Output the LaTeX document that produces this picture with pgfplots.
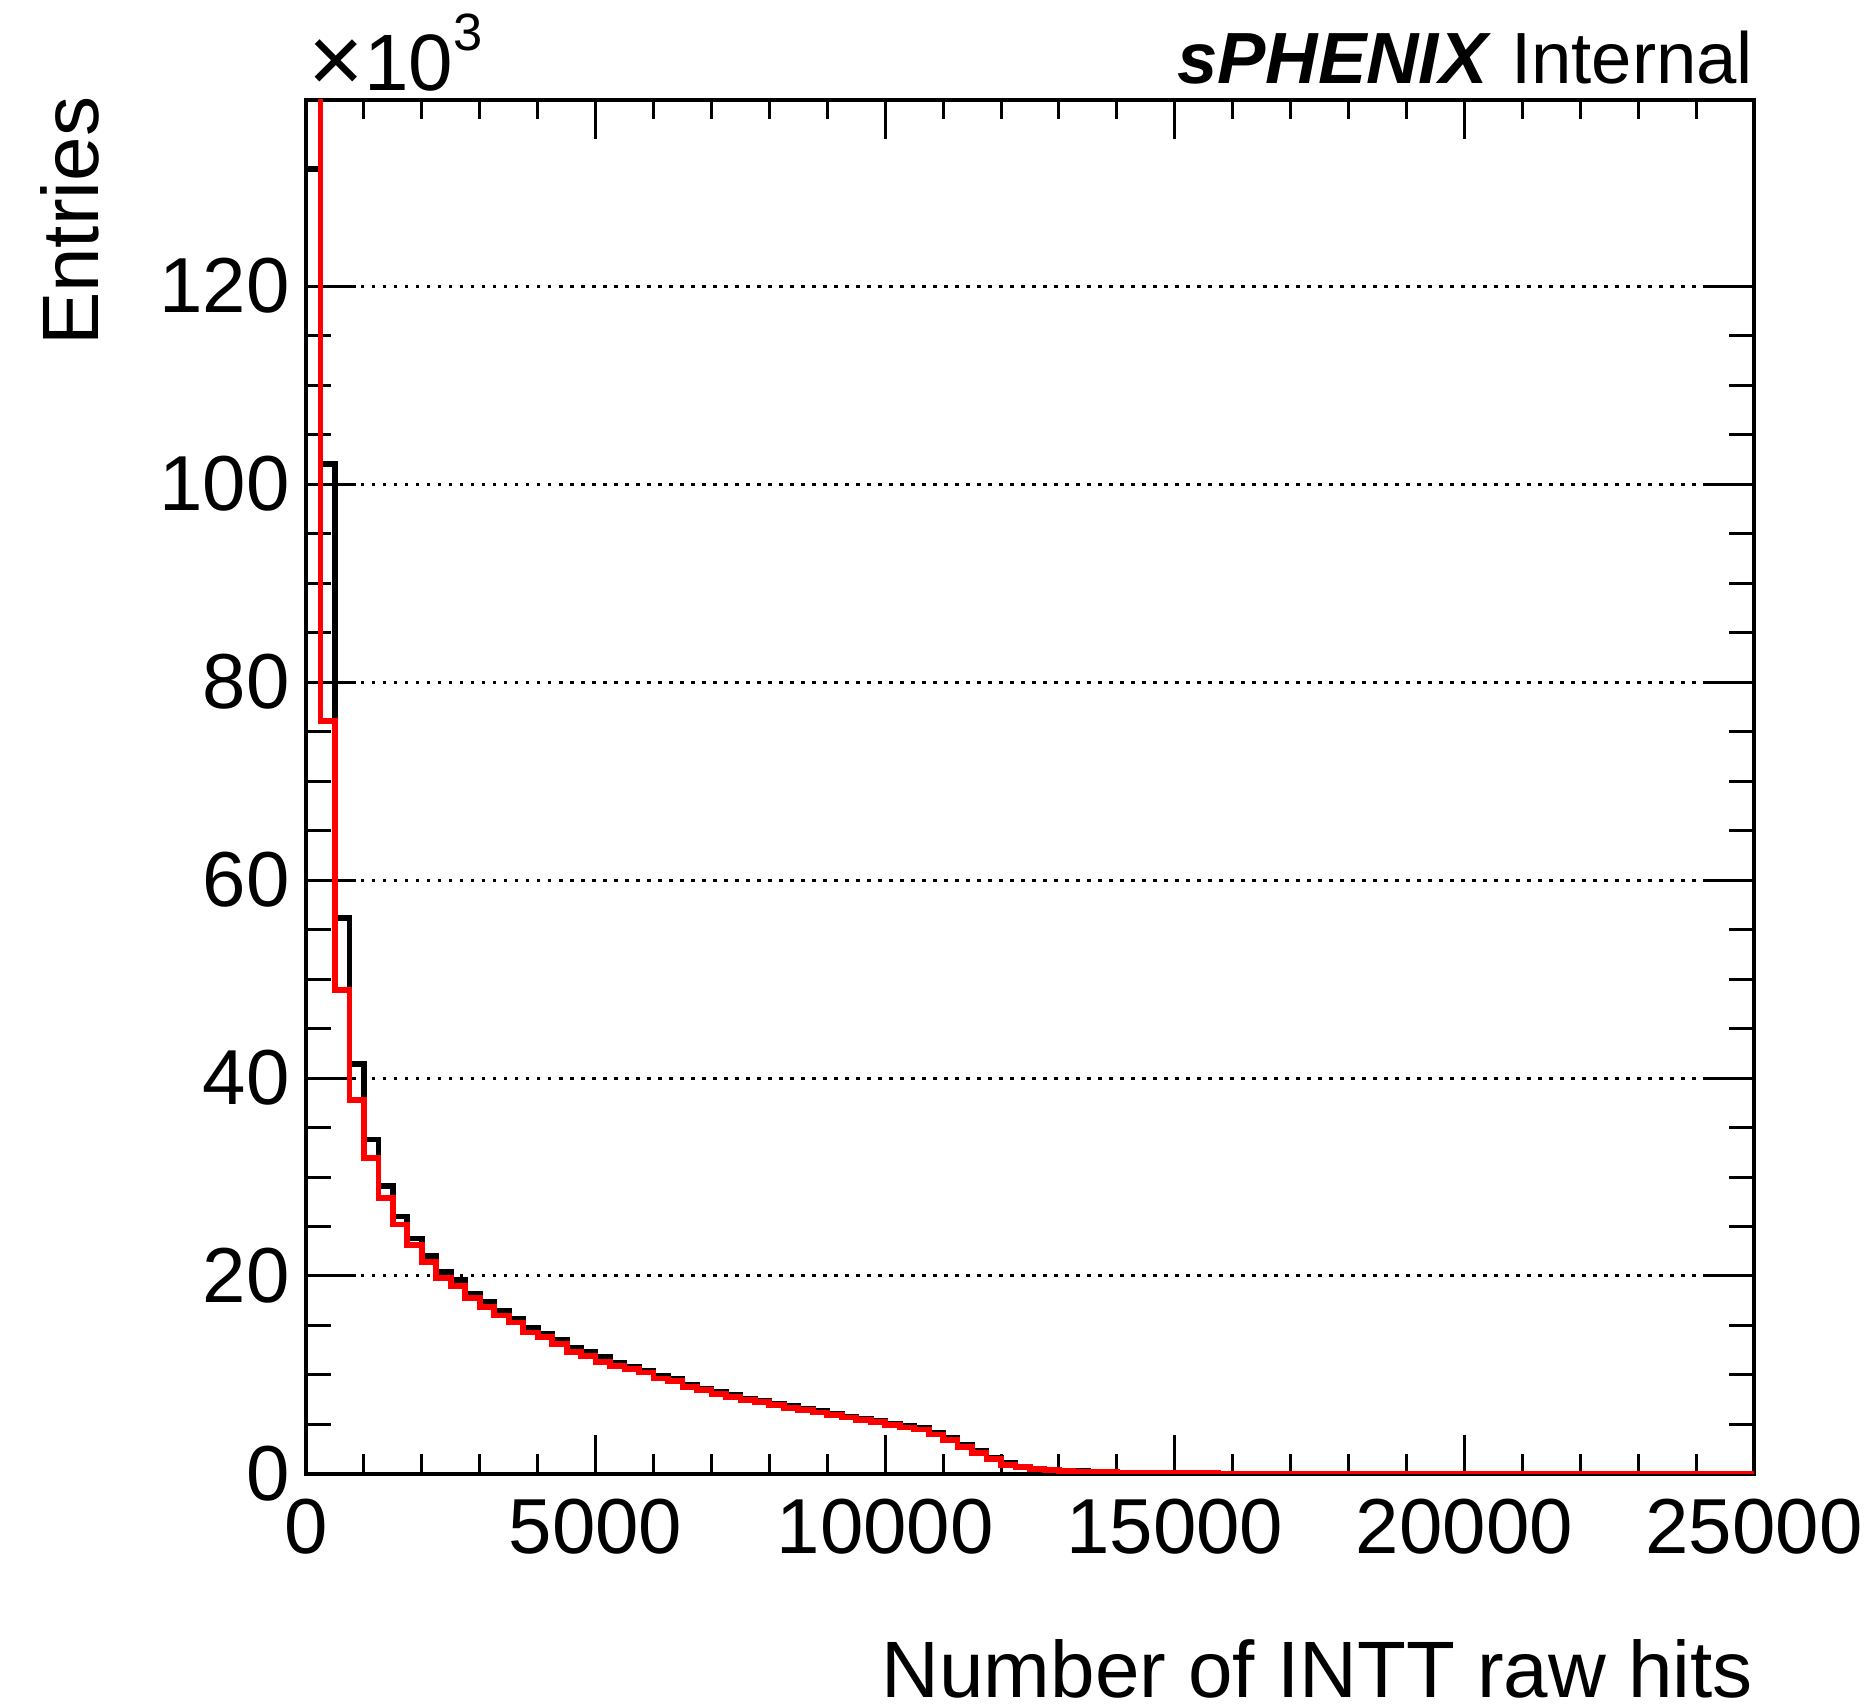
\documentclass[border=0pt]{standalone}
\usepackage{fontspec}
\setmainfont{Liberation Sans}
\usepackage{pgfplots}
\pgfplotsset{compat=1.18}
\begin{document}
\begin{tikzpicture}
\useasboundingbox (-61.2pt,-46.8pt) rectangle (313.8pt,294.8pt);
\begin{axis}[
  at={(0pt,0pt)}, anchor=south west,
  scale only axis, width=289.6pt, height=274.8pt,
  xmin=0, xmax=25000, ymin=0, ymax=138.8,
  axis line style={line width=0.9pt},
  xtick={0,5000,...,25000}, minor x tick num=4,
  ytick={0,20,...,120}, minor y tick num=3,
  tick align=inside,
  tick style={line width=0.6pt, black},
  major tick length=10pt, minor tick length=5pt,
  xtick style={/pgfplots/major tick length=7.8pt, /pgfplots/minor tick length=3.9pt},
  ymajorgrids,
  major grid style={line width=0.6pt, dash pattern=on 0.7pt off 1.5pt, black},
  scaled ticks=false,
  /pgf/number format/set thousands separator={},
  /pgf/number format/assume math mode=true,
  tick label style={font=\fontsize{15.6}{15.6}\selectfont, inner sep=0pt},
  xticklabel style={yshift=-4.8pt},
  yticklabel style={xshift=-3.1pt},
]
\addplot[const plot mark left, black, line width=1.15pt, line join=miter] coordinates {
(0,131.8) (250,102.0) (500,56.2) (750,41.4) (1000,33.8) (1250,29.1) (1500,26.0) (1750,23.8) (2000,22.0) (2250,20.4)
(2500,19.6) (2750,18.2) (3000,17.4) (3250,16.5) (3500,15.7) (3750,14.8) (4000,14.2) (4250,13.5) (4500,12.7) (4750,12.3)
(5000,11.8) (5250,11.2) (5500,10.8) (5750,10.4) (6000,9.9) (6250,9.6) (6500,9.0) (6750,8.6) (7000,8.3) (7250,7.95)
(7500,7.6) (7750,7.4) (8000,7.1) (8250,6.85) (8500,6.6) (8750,6.35) (9000,6.1) (9250,5.8) (9500,5.55) (9750,5.4)
(10000,5.1) (10250,4.85) (10500,4.65) (10750,4.2) (11000,3.6) (11250,2.95) (11500,2.35) (11750,1.65) (12000,1.1) (12250,0.75)
(12500,0.55) (12750,0.45) (13000,0.35) (13250,0.28) (13500,0.22) (13750,0.19) (14000,0.16) (14250,0.14) (14500,0.12) (14750,0.10)
(15000,0.09) (15250,0.08) (15500,0.07) (15750,0.06) (16000,0.05) (16250,0.05) (16500,0.04) (16750,0.04) (17000,0.03) (17250,0.03)
(17500,0.02) (17750,0.02) (18000,0.02) (18250,0.02) (18500,0.01) (18750,0.01) (19000,0.01) (19250,0.01) (19500,0.01) (19750,0.01)
(20000,0.01) (20250,0.01) (20500,0.0) (20750,0.0) (21000,0.0) (21250,0.0) (21500,0.0) (21750,0.0) (22000,0.0) (22250,0.0)
(22500,0.0) (22750,0.0) (23000,0.0) (23250,0.0) (23500,0.0) (23750,0.0) (24000,0.0) (24250,0.0) (24500,0.0) (24750,0.0)
(25000,0.0)
};
\addplot[const plot mark left, red, line width=1.15pt, line join=miter] coordinates {
(0,170) (250,76.1) (500,48.9) (750,37.8) (1000,31.9) (1250,27.9) (1500,25.2) (1750,23.1) (2000,21.4) (2250,19.8)
(2500,19.0) (2750,17.8) (3000,16.9) (3250,16.0) (3500,15.3) (3750,14.3) (4000,13.8) (4250,13.1) (4500,12.3) (4750,11.9)
(5000,11.3) (5250,10.9) (5500,10.6) (5750,10.25) (6000,9.65) (6250,9.4) (6500,8.75) (6750,8.5) (7000,8.1) (7250,7.8)
(7500,7.5) (7750,7.3) (8000,7.0) (8250,6.7) (8500,6.5) (8750,6.2) (9000,5.95) (9250,5.7) (9500,5.45) (9750,5.24)
(10000,4.94) (10250,4.7) (10500,4.5) (10750,4.0) (11000,3.43) (11250,2.75) (11500,2.15) (11750,1.48) (12000,0.9) (12250,0.67)
(12500,0.47) (12750,0.40) (13000,0.30) (13250,0.24) (13500,0.20) (13750,0.17) (14000,0.15) (14250,0.13) (14500,0.11) (14750,0.10)
(15000,0.09) (15250,0.08) (15500,0.07) (15750,0.06) (16000,0.05) (16250,0.04) (16500,0.04) (16750,0.03) (17000,0.03) (17250,0.02)
(17500,0.02) (17750,0.02) (18000,0.01) (18250,0.01) (18500,0.01) (18750,0.01) (19000,0.01) (19250,0.01) (19500,0.01) (19750,0.0)
(20000,0.0) (20250,0.0) (20500,0.0) (20750,0.0) (21000,0.0) (21250,0.0) (21500,0.0) (21750,0.0) (22000,0.0) (22250,0.0)
(22500,0.0) (22750,0.0) (23000,0.0) (23250,0.0) (23500,0.0) (23750,0.0) (24000,0.0) (24250,0.0) (24500,0.0) (24750,0.0)
(25000,0.0)
};
\end{axis}
\node[anchor=base west, inner sep=0pt, font=\fontsize{16}{16}\selectfont] at (0.4pt,276.6pt) {\raisebox{-0.02em}{\fontsize{19}{19}\selectfont ×}10\raisebox{0.51em}{\fontsize{10.5}{10.5}\selectfont 3}};
\node[anchor=base east, inner sep=0pt, font=\fontsize{14.5}{14.5}\selectfont] at (289.6pt,278pt) {\textbf{\textit{sPHENIX}} Internal};
\node[anchor=base east, inner sep=0pt, rotate=90, font=\fontsize{16}{16}\selectfont] at (-41.6pt,275.6pt) {Entries};
\node[anchor=base east, inner sep=0pt, font=\fontsize{16}{16}\selectfont] at (289.6pt,-44.8pt) {Number of INTT raw hits};
\end{tikzpicture}
\end{document}
